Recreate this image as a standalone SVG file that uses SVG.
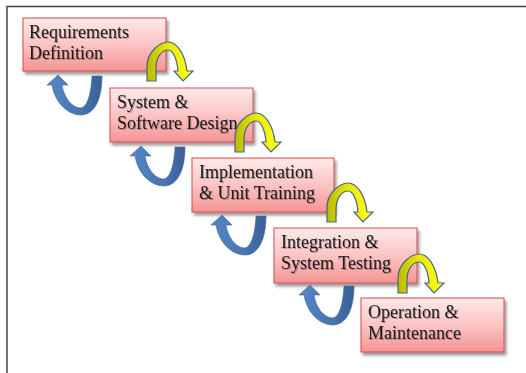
<svg xmlns="http://www.w3.org/2000/svg" width="526" height="373" viewBox="0 0 526 373">
<defs>
<linearGradient id="boxg" x1="0" y1="0" x2="0" y2="1">
<stop offset="0" stop-color="#ffe9e9"/>
<stop offset="0.5" stop-color="#fcc4c4"/>
<stop offset="1" stop-color="#f59494"/>
</linearGradient>
<linearGradient id="yelg" x1="0" y1="0" x2="1" y2="0">
<stop offset="0" stop-color="#b9b900"/>
<stop offset="0.45" stop-color="#e8e800"/>
<stop offset="1" stop-color="#ffff20"/>
</linearGradient>
<linearGradient id="blug" x1="0" y1="0" x2="1" y2="0">
<stop offset="0" stop-color="#5587c6"/>
<stop offset="0.6" stop-color="#4775b0"/>
<stop offset="1" stop-color="#3a6096"/>
</linearGradient>
<filter id="sh" x="-10%" y="-10%" width="130%" height="140%">
<feGaussianBlur in="SourceAlpha" stdDeviation="1.5"/>
<feOffset dx="1.5" dy="2.5" result="b"/>
<feComponentTransfer><feFuncA type="linear" slope="0.4"/></feComponentTransfer>
<feMerge><feMergeNode/><feMergeNode in="SourceGraphic"/></feMerge>
</filter>
<filter id="tsh" x="-5%" y="-20%" width="110%" height="150%">
<feGaussianBlur in="SourceAlpha" stdDeviation="0.6"/>
<feOffset dx="1" dy="1.2"/>
<feComponentTransfer><feFuncA type="linear" slope="0.3"/></feComponentTransfer>
<feMerge><feMergeNode/><feMergeNode in="SourceGraphic"/></feMerge>
</filter>
<path id="yarrow" d="M0,39 L0,24 C0,10 13,0 21,0 C30,0 38,12 40,29 L46,29 L36,39 L27,29 L31,29 C30,17 26,8 21,8 C15,8 9,15 9,26 L9,39 Z"/>
<path id="barrow" d="M11,0 L21,10 L15,10 C17,22 24,32 33,33 C40,33 44,20 45,1 L55,1 C55,25 47,40 34,40 C21,40 8,28 5,10 L0,10 Z"/>
</defs>
<style>
.box{fill:url(#boxg);stroke:#d24a4a;stroke-width:1;filter:url(#sh)}
.lbl{font-family:"Liberation Serif","Times New Roman",serif;font-size:18px;fill:#1a1a1a;filter:url(#tsh)}
.ya{fill:url(#yelg);stroke:#4a6585;stroke-width:1.2}
.ba{fill:url(#blug);stroke:#3d6494;stroke-width:0.6}
.frame{fill:none;stroke:#444;stroke-width:1.5}
</style>
<rect width="526" height="373" fill="#fff"/>
<path class="frame" d="M7,373 L7,6.5 L526,6.5"/>
<g id="n1">
<rect class="box" x="23" y="18" width="143" height="53"/>
<text class="lbl" x="29" y="38">Requirements</text>
<text class="lbl" x="29" y="58.5">Definition</text>
</g>
<g id="n2">
<rect class="box" x="110" y="88" width="143" height="54"/>
<text class="lbl" x="117" y="108">System &amp;</text>
<text class="lbl" x="117" y="128.5">Software Design</text>
</g>
<g id="n3">
<rect class="box" x="192" y="158" width="142" height="54"/>
<text class="lbl" x="199" y="178">Implementation</text>
<text class="lbl" x="199" y="198.5">&amp; Unit Training</text>
</g>
<g id="n4">
<rect class="box" x="274" y="228" width="143" height="55"/>
<text class="lbl" x="281" y="248">Integration &amp;</text>
<text class="lbl" x="281" y="268.5">System Testing</text>
</g>
<g id="n5">
<rect class="box" x="361" y="298" width="143" height="54"/>
<text class="lbl" x="368" y="318">Operation &amp;</text>
<text class="lbl" x="368" y="338.5">Maintenance</text>
</g>
<g id="connectors">
<use href="#yarrow" class="ya" transform="translate(147,42)"/>
<use href="#yarrow" class="ya" transform="translate(235,113)"/>
<use href="#yarrow" class="ya" transform="translate(327,183)"/>
<use href="#yarrow" class="ya" transform="translate(398,254)"/>
<use href="#barrow" class="ba" transform="translate(47,75)"/>
<use href="#barrow" class="ba" transform="translate(130,146)"/>
<use href="#barrow" class="ba" transform="translate(211,215)"/>
<use href="#barrow" class="ba" transform="translate(299,285)"/>
</g>
</svg>
